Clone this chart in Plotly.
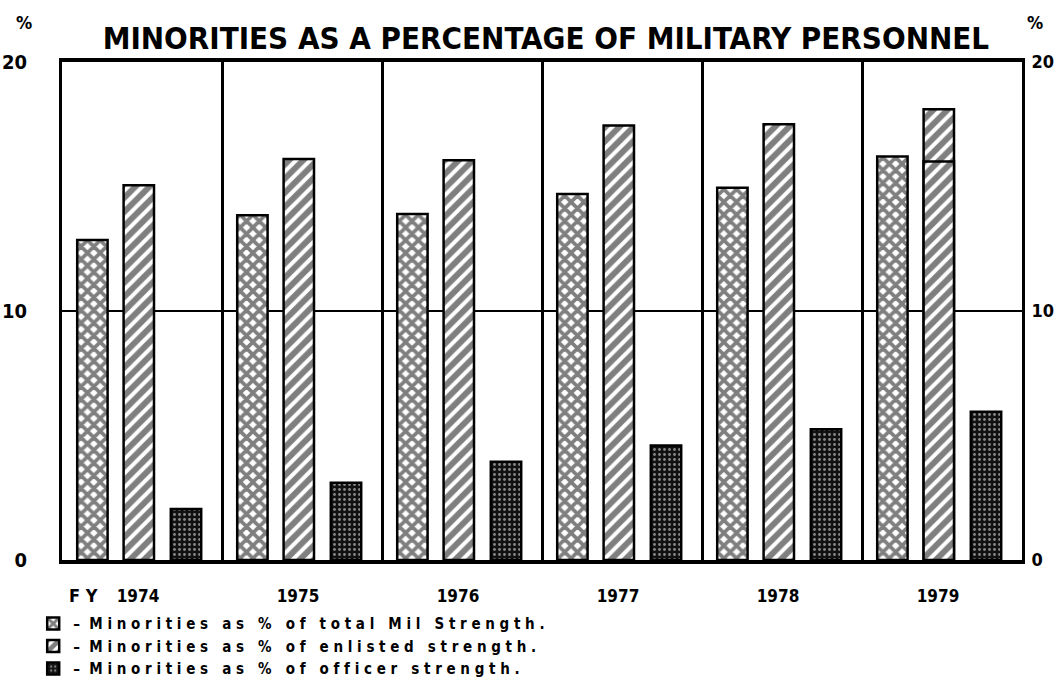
import plotly.graph_objects as go

years = ["1974", "1975", "1976", "1977", "1978", "1979"]
total_pct = [12.85, 13.85, 13.9, 14.7, 14.95, 16.2]
enlisted_pct = [15.05, 16.1, 16.05, 17.45, 17.5, 18.1]
enlisted_1979_mark = [None, None, None, None, None, 16.0]
officer_pct = [2.05, 3.1, 3.95, 4.6, 5.25, 5.95]
y_ticks = [0, 10, 20]

legend_names = [
    "<b>–  M i n o r i t i e s   a s   %   o f   t o t a l   M i l   S t r e n g t h .</b>",
    "<b>–  M i n o r i t i e s   a s   %   o f   e n l i s t e d   s t r e n g t h .</b>",
    "<b>–  M i n o r i t i e s   a s   %   o f   o f f i c e r   s t r e n g t h .</b>",
]

FONT = "DejaVu Sans Condensed, Liberation Sans Narrow, Roboto Condensed, sans-serif"
W = 0.19
line = dict(color="black", width=2.5)

fig = go.Figure()
fig.add_trace(go.Bar(
    x=years, y=total_pct, name=legend_names[0], width=W, offset=-0.405,
    marker=dict(color="white", line=line,
                pattern=dict(shape="x", fgcolor="black", bgcolor="white", size=9, solidity=0.65)),
))
fig.add_trace(go.Bar(
    x=years, y=enlisted_pct, name=legend_names[1], width=W, offset=-0.115,
    marker=dict(color="white", line=line,
                pattern=dict(shape="/", fgcolor="black", bgcolor="white", size=10, solidity=0.6)),
))
fig.add_trace(go.Bar(
    x=years, y=enlisted_1979_mark, showlegend=False, width=W, offset=-0.115,
    marker=dict(color="rgba(0,0,0,0)", line=line,
                pattern=dict(shape="/", fgcolor="black", bgcolor="white", size=10, solidity=0.6)),
))
fig.add_trace(go.Bar(
    x=years, y=officer_pct, name=legend_names[2], width=W, offset=0.18,
    marker=dict(color="black", line=line,
                pattern=dict(shape=".", fgcolor="white", bgcolor="#111", size=5, solidity=0.25)),
))
fig.add_trace(go.Scatter(x=years, y=[None]*6, yaxis="y2", showlegend=False, hoverinfo="skip"))

ytext = [f"<b>{v}</b>" for v in y_ticks]

fig.update_layout(
    width=1060, height=697,
    margin=dict(l=62, r=38, t=62, b=129),
    plot_bgcolor="white", paper_bgcolor="white",
    barmode="overlay",
    font=dict(family=FONT, color="black", size=16),
    title=dict(text="<b>MINORITIES AS A PERCENTAGE OF MILITARY PERSONNEL</b>",
               x=0.515, xanchor="center", y=0.945, yanchor="middle",
               font=dict(family=FONT, size=31, color="black")),
    xaxis=dict(type="category", tickson="boundaries", showgrid=True, gridcolor="black", gridwidth=2.5,
               showline=True, linecolor="black", linewidth=4, mirror=True, automargin=False,
               ticks="", tickfont=dict(family=FONT, size=17), ticklabelstandoff=18,
               ticklabelshift=-4,
               tickvals=years, ticktext=[f"<b>{y}</b>" for y in years]),
    yaxis=dict(range=[0, 20], tickvals=y_ticks, ticktext=ytext, showgrid=True, gridcolor="black",
               gridwidth=1.5, automargin=False,
               showline=True, linecolor="black", linewidth=3, ticks="", ticklabelstandoff=28,
               tickfont=dict(family=FONT, size=20), zeroline=False),
    yaxis2=dict(range=[0, 20], tickvals=y_ticks, ticktext=ytext, overlaying="y", side="right",
                showgrid=False, automargin=False,
                showline=True, linecolor="black", linewidth=3, ticks="", ticklabelstandoff=3,
                tickfont=dict(family=FONT, size=18), zeroline=False),
    legend=dict(x=-0.03, y=-0.095, xanchor="left", yanchor="top", orientation="v",
                font=dict(family=FONT, size=15), tracegroupgap=0, itemwidth=30,
                bgcolor="rgba(0,0,0,0)"),
    showlegend=True,
)
fig.add_annotation(text="<b>%</b>", xref="paper", yref="paper", x=-0.05, y=1.079,
                   yanchor="middle", showarrow=False, font=dict(size=18, family=FONT))
fig.add_annotation(text="<b>%</b>", xref="paper", yref="paper", x=1.024, y=1.079,
                   yanchor="middle", showarrow=False, font=dict(size=18, family=FONT))
fig.add_annotation(text="<b>F Y</b>", xref="paper", yref="paper", x=0.005, y=-0.071,
                   yanchor="middle", showarrow=False, font=dict(size=18, family=FONT))

fig.write_html("out.html", config={"displayModeBar": False},
               post_script="document.body.style.margin='0';")
